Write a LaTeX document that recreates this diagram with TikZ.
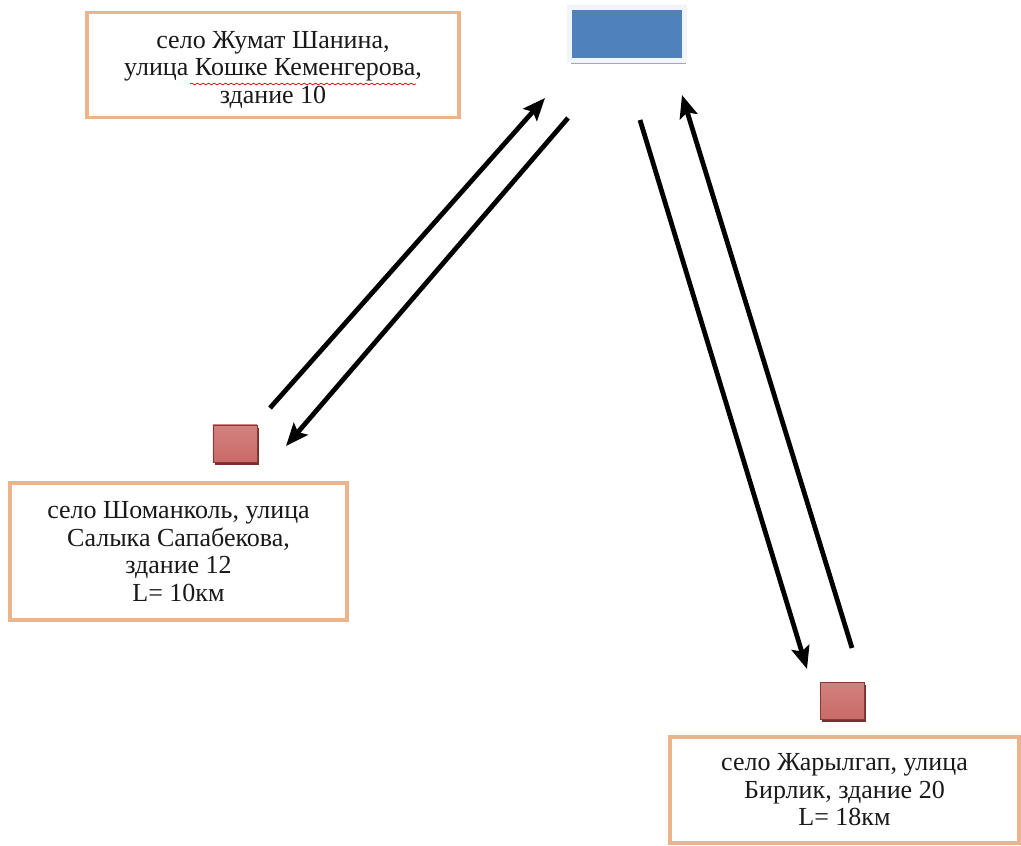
\documentclass[tikz,border=0pt]{standalone}
\usepackage{fontspec}
\setmainfont{Liberation Serif}
\usetikzlibrary{positioning, calc, arrows.meta, shadows, decorations.pathmorphing}

\definecolor{boxline}{RGB}{236,180,140}
\definecolor{hubblue}{RGB}{79,129,189}
\definecolor{sitered}{RGB}{192,80,77}

\begin{document}
\begin{tikzpicture}[x=0.025cm, y=-0.025cm]
        \tikzstyle{addr}=[draw=boxline, line width=2.4pt, fill=white, rectangle, align=center, inner sep=0pt, text=black!90, font=\fontsize{18.5}{19.5}\selectfont];
        \tikzstyle{site}=[rectangle, draw=sitered!70!black, line width=0.3pt, top color=sitered!72, middle color=sitered, bottom color=sitered!85, shading angle=0, minimum width=1.1cm, minimum height=0.925cm, drop shadow={shadow xshift=1.6pt, shadow yshift=-1.8pt, fill=sitered!60!black, opacity=1}];
        \tikzstyle{hub}=[rectangle, fill=hubblue, draw=hubblue!8, line width=3.5pt, minimum width=2.875cm, minimum height=1.325cm, drop shadow={shadow xshift=1pt, shadow yshift=-2.5pt, fill=gray!70, opacity=1}];
        \tikzstyle{trip}=[line width=3.4pt, -{Stealth[length=16pt, width=13pt, inset=3pt]}];

        \useasboundingbox (0,0) rectangle (1021,846);

        \node[hub] (hub) at (627,34) {};
        \node[addr, minimum width=9.3cm, minimum height=2.625cm] (zhumat) at (273,65) {\rule{0pt}{19pt}село Жумат Шанина,\\улица Кошке Кеменгерова,\\здание 10};
        \node[site] (siteW) at (235,443.5) {};
        \node[addr, minimum width=8.425cm, minimum height=3.425cm] (shoman) at (178.5,551.5) {село Шоманколь, улица\\Салыка Сапабекова,\\здание 12\\L= 10км};
        \node[site] (siteE) at (842,701) {};
        \node[addr, minimum width=8.725cm, minimum height=2.65cm] (zharyl) at (844.5,790) {село Жарылгап, улица\\Бирлик, здание 20\\L= 18км};

        % spelling underline
        \draw[red!85!black, line width=0.5pt, decorate, decoration={snake, segment length=4pt, amplitude=0.6pt}] (190,84) -- (416,84);

        % trips to and from the hub
        \coordinate (wOut) at (270,408);
        \coordinate (wIn) at (545,98);
        \coordinate (hOutW) at (568,118);
        \coordinate (wBack) at (286,446);
        \coordinate (hOutE) at (640,120);
        \coordinate (eIn) at (807,669);
        \coordinate (eOut) at (852,648);
        \coordinate (hInE) at (682,95);

        \draw[trip] (wOut) -- (wIn);
        \draw[trip] (hOutW) -- (wBack);
        \draw[trip] (hOutE) -- (eIn);
        \draw[trip] (eOut) -- (hInE);
\end{tikzpicture}
\end{document}
